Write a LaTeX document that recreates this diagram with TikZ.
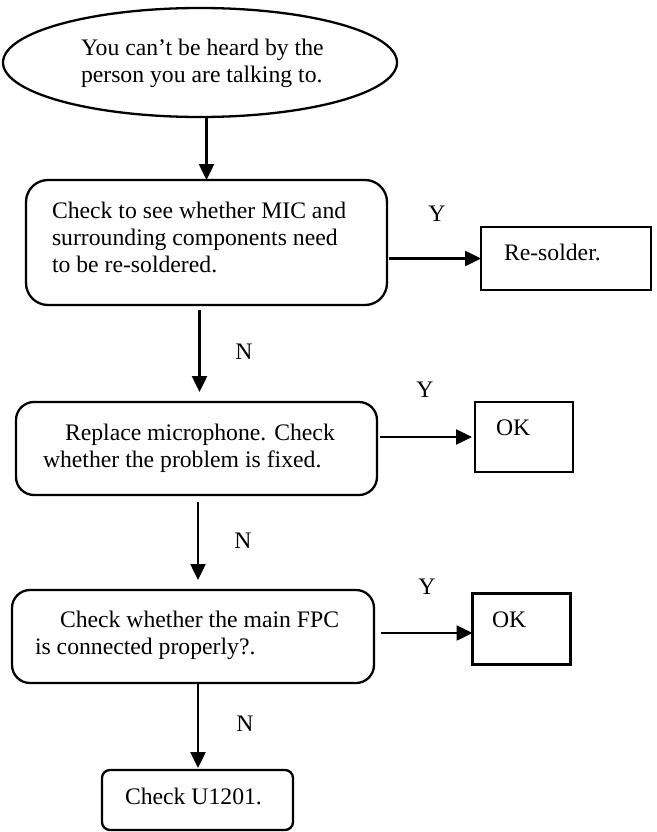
\documentclass[tikz,border=0pt]{standalone}
\usepackage{fontspec}
\setmainfont{Liberation Serif}
\usetikzlibrary{shapes.geometric,arrows.meta}
\begin{document}
\begin{tikzpicture}[x=1pt,y=-1pt,
  every node/.style={inner sep=0pt, outer sep=0pt},
  txt/.style={font=\fontsize{23.7}{27}\selectfont, align=left, anchor=north west},
  lbl/.style={font=\fontsize{23.7}{27}\selectfont, anchor=base},
  word/.style={font=\fontsize{23.7}{27}\selectfont, anchor=base west},
  frame/.style={draw, line width=2.3pt},
  rbox/.style={frame, rounded corners=#1},
  arr/.style={line width=2.5pt, -{Triangle[length=16pt,width=15pt]}}]
\useasboundingbox (0,0) rectangle (656,832);

% start of the procedure
\node[frame, ellipse, minimum width=394pt, minimum height=109pt] (start) at (200,62.5) {};
\node[txt] (starttxt) at (81,39) {You can’t be heard by the\\person you are talking to.};

% step 1: solder joints
\node[rbox=22pt, minimum width=361pt, minimum height=125pt] (b1) at (206.5,242.5) {};
\node[txt] (b1txt) at (52,202) {Check to see whether MIC and\\surrounding components need\\to be re-soldered.};
\node[frame, minimum width=170pt, minimum height=63pt] (rs) at (566,258.5) {};
\node[word] (rstxt) at (504,260) {Re-solder.};

% step 2: microphone
\node[rbox=18pt, minimum width=361pt, minimum height=93pt] (b2) at (196.5,448.5) {};
\node[txt] (b2txt) at (43,424) {\hspace*{22pt}Replace microphone. Check\\whether the problem is fixed.};
\node[frame, minimum width=98pt, minimum height=70pt] (ok1) at (524,437) {};
\node[word] (ok1txt) at (496,435) {OK};

% step 3: FPC connection
\node[rbox=18pt, minimum width=362pt, minimum height=93pt] (b3) at (193,636.5) {};
\node[txt] (b3txt) at (35,611) {\hspace*{25pt}Check whether the main FPC\\is connected properly?.};
\node[frame, minimum width=98pt, minimum height=71pt] (ok2) at (521.5,629) {};
\node[word] (ok2txt) at (492,627) {OK};

% final step
\node[rbox=8pt, minimum width=191pt, minimum height=60pt] (u) at (197.5,800) {};
\node[word] (utxt) at (125,804) {Check U1201.};

% connectors
\draw[arr] (start.south -| b1.north) -- (b1.north);
\draw[arr, shorten <=2pt] (b1.east |- rs.west) -- (rs.west);
\coordinate (n1) at ([xshift=-7pt]b1.south);
\draw[arr, shorten <=5pt, shorten >=10pt] (n1) -- (n1 |- b2.north);
\draw[arr, shorten <=3pt, shorten >=3pt] (b2.east |- ok1.west) -- (ok1.west);
\coordinate (n2) at ([xshift=1.5pt]b2.south);
\draw[arr, shorten <=7pt, shorten >=10pt] (n2) -- (n2 |- b3.north);
\coordinate (y3) at ([yshift=-4pt]ok2.west);
\draw[arr, shorten <=7pt] (b3.east |- y3) -- (y3);
\coordinate (n3) at ([xshift=5pt]b3.south);
\draw[arr, shorten >=2pt] (n3) -- (n3 |- u.north);

% branch labels
\node[lbl] (y1) at (437,221) {Y};
\node[lbl] (y2) at (425,397) {Y};
\node[lbl] (y3l) at (427,594) {Y};
\node[lbl] (no1) at (244,359) {N};
\node[lbl] (no2) at (243,548) {N};
\node[lbl] (no3) at (245,731) {N};
\end{tikzpicture}
\end{document}
